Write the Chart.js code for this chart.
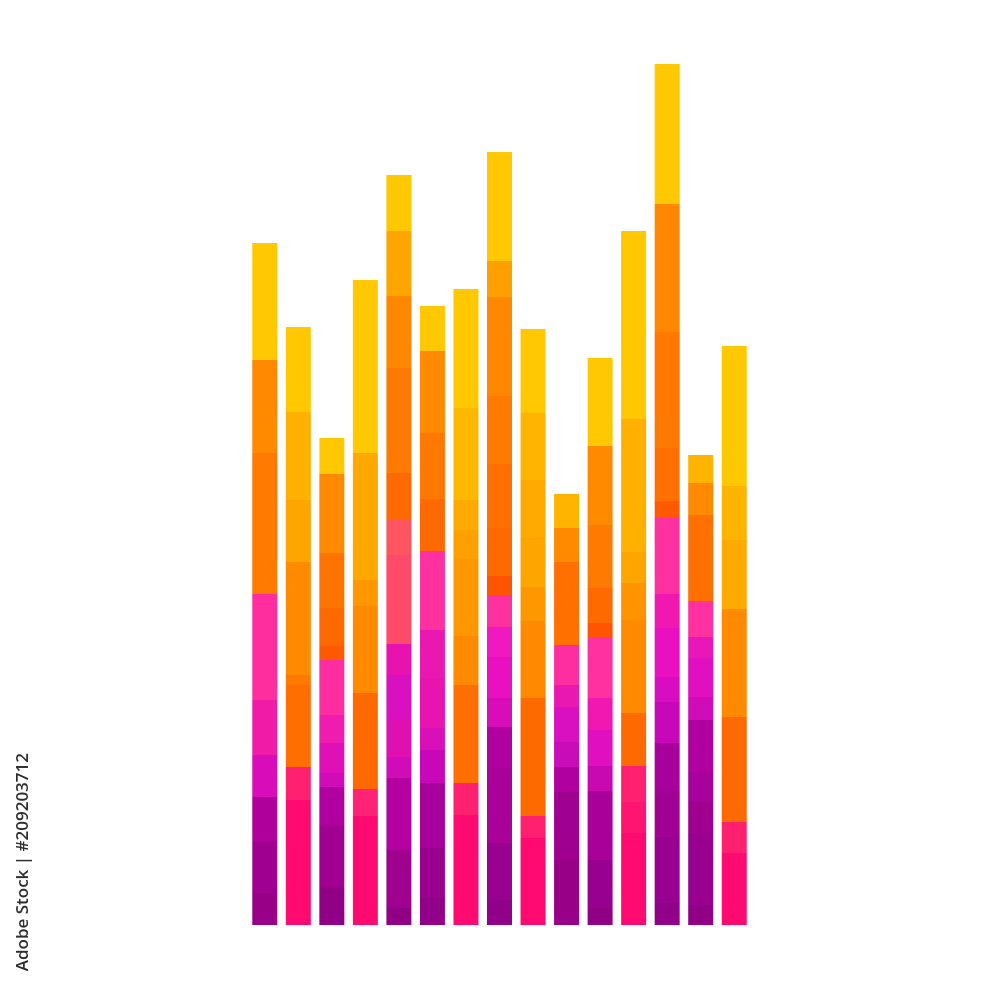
<!DOCTYPE html>
<html>
<head>
<meta charset="utf-8">
<script src="https://cdn.jsdelivr.net/npm/chart.js@4/dist/chart.umd.min.js"></script>
<style>
    body { margin: 0; background: #fff; }
    #wrap { position: relative; width: 1000px; height: 1000px; }
    #stamp {
        position: absolute; left: 0; top: 0;
        width: 300px; line-height: 22px; text-align: right; white-space: nowrap;
        font-family: "Open Sans", sans-serif; font-size: 17px; font-weight: 600; color: #2e2e2e;
        transform-origin: 0 0;
        transform: translate(11px, 1053px) rotate(-90deg);
    }
</style>
</head>
<body>
<div id="wrap">
    <canvas id="barChart" width="1000" height="1000"></canvas>
    <div id="stamp">Adobe Stock | #209203712</div>
</div>
<script>
// segment heights per bar, from the bottom up
var bar01 = [32, 51, 45, 42, 55, 106, 141, 93, 117];
var bar02 = [125, 33, 82, 10, 113, 62, 88, 85];
var bar03 = [38, 62, 38, 14, 30, 28, 55, 14, 38, 55, 79, 36];
var bar04 = [109, 27, 96, 87, 26, 127, 173];
var bar05 = [17, 58, 72, 21, 37, 45, 31, 89, 35, 47, 105, 72, 65, 56];
var bar06 = [27, 50, 65, 33, 22, 50, 48, 79, 52, 66, 82, 45];
var bar07 = [110, 32, 98, 49, 77, 29, 30, 92, 119];
var bar08 = [25, 57, 75, 41, 29, 41, 30, 32, 19, 48, 64, 68, 99, 36, 109];
var bar09 = [87, 22, 118, 77, 34, 50, 57, 67, 84];
var bar10 = [65, 68, 25, 25, 35, 22, 40, 83, 34, 34];
var bar11 = [17, 48, 69, 25, 36, 32, 61, 14, 35, 63, 79, 88];
var bar12 = [92, 31, 36, 53, 93, 37, 31, 133, 188];
var bar13 = [22, 66, 46, 48, 41, 25, 49, 34, 76, 17, 53, 116, 128, 140];
var bar14 = [20, 72, 31, 30, 52, 23, 39, 21, 36, 86, 32, 28];
var bar15 = [72, 31, 105, 108, 69, 54, 140];

// segment colours per bar, same order
var col01 = ["#980088", "#A00090", "#B0009C", "#D80CB8", "#F01CA8", "#FF2E9E", "#FF7A00", "#FF8A00", "#FFC800"];
var col02 = ["#FF0A70", "#FF2070", "#FF6E00", "#FF7800", "#FF8A00", "#FFA500", "#FFB000", "#FFC800"];
var col03 = ["#900085", "#A00090", "#B000A0", "#D00CB8", "#E010B8", "#F01CB0", "#FF2EA0", "#FF5A00", "#FF6A00", "#FF7400", "#FF8A00", "#FFC800"];
var col04 = ["#FF0A70", "#FF2275", "#FF6A00", "#FF8A00", "#FF9800", "#FFA800", "#FFC800"];
var col05 = ["#900085", "#A00090", "#B400A0", "#D00CB8", "#E010B0", "#D810C0", "#E812B0", "#FF4A6A", "#FF5560", "#FF6A00", "#FF7A00", "#FF8800", "#FFA500", "#FFC800"];
var col06 = ["#900088", "#9A0090", "#A8009A", "#C808B8", "#D810B8", "#E814B0", "#E818B0", "#FF30A0", "#FF6A00", "#FF7800", "#FF8A00", "#FFC800"];
var col07 = ["#FF0A70", "#FF2070", "#FF6E00", "#FF8A00", "#FF9800", "#FFA000", "#FFAA00", "#FFB800", "#FFC800"];
var col08 = ["#900088", "#980090", "#A80098", "#B000A0", "#D80CB8", "#E810C0", "#F018C0", "#FF30A0", "#FF5500", "#FF6A00", "#FF7000", "#FF7A00", "#FF8800", "#FFA000", "#FFC800"];
var col09 = ["#FF0A70", "#FF2070", "#FF6A00", "#FF8A00", "#FF9800", "#FFA500", "#FFAA00", "#FFB400", "#FFC800"];
var col10 = ["#980088", "#A00090", "#B000A0", "#C80CB8", "#D810C0", "#E818B0", "#FF2EA0", "#FF7000", "#FF8A00", "#FFB400"];
var col11 = ["#900085", "#980090", "#A80098", "#C808B0", "#E010C0", "#F018B0", "#FF30A0", "#FF5500", "#FF6A00", "#FF7A00", "#FF8A00", "#FFC800"];
var col12 = ["#FF0A70", "#FF1472", "#FF2070", "#FF6A00", "#FF8A00", "#FF9400", "#FFA500", "#FFB000", "#FFC800"];
var col13 = ["#900088", "#980090", "#A00094", "#A8009C", "#C808B8", "#D80CC0", "#E810C0", "#F018B0", "#FF30A0", "#FF5A00", "#FF7000", "#FF7800", "#FF8800", "#FFC800"];
var col14 = ["#900085", "#980090", "#A00090", "#A8009A", "#B000A0", "#D00CB8", "#E010C0", "#E818B8", "#FF30A0", "#FF7000", "#FF8A00", "#FFB400"];
var col15 = ["#FF0A70", "#FF2070", "#FF6A00", "#FF8A00", "#FFAA00", "#FFB400", "#FFC800"];

var labels = ["1", "2", "3", "4", "5", "6", "7", "8", "9", "10", "11", "12", "13", "14", "15"];
var bars = [bar01, bar02, bar03, bar04, bar05, bar06, bar07, bar08, bar09, bar10, bar11, bar12, bar13, bar14, bar15];
var cols = [col01, col02, col03, col04, col05, col06, col07, col08, col09, col10, col11, col12, col13, col14, col15];

var layers = Math.max.apply(null, bars.map(function(b) { return b.length; }));
var datasets = [];
for (var k = 0; k < layers; k++) {
    datasets.push({
        label: "layer " + (k + 1),
        data: bars.map(function(b) { return k < b.length ? b[k] : null; }),
        backgroundColor: cols.map(function(c) { return k < c.length ? c[k] : "rgba(0,0,0,0)"; }),
        borderWidth: 0,
        categoryPercentage: 1,
        barPercentage: 0.745
    });
}

var ctx = document.getElementById('barChart').getContext('2d');
var chart = new Chart(ctx, {
    type: 'bar',
    data: {
        labels: labels,
        datasets: datasets
    },
    options: {
        responsive: false,
        animation: false,
        layout: {
            padding: { left: 248, right: 249, top: 25, bottom: 75 }
        },
        plugins: {
            legend: { display: false },
            tooltip: { enabled: false }
        },
        scales: {
            x: { stacked: true, display: false },
            y: { stacked: true, display: false, min: 0, max: 900 }
        }
    }
});
</script>
</body>
</html>
